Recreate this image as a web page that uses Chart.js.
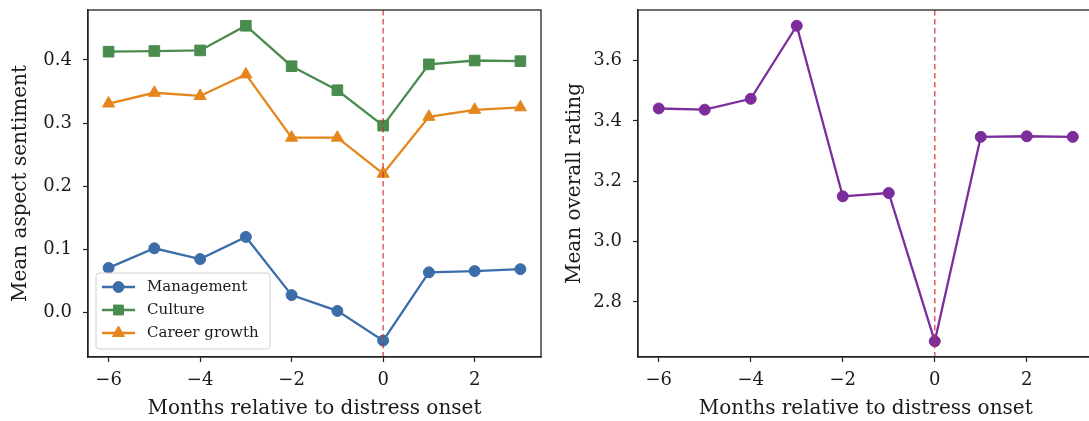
<!DOCTYPE html>
<html>
<head>
<meta charset="utf-8">
<script src="https://cdn.jsdelivr.net/npm/chart.js@4/dist/chart.umd.min.js"></script>
<style>
  html, body { margin: 0; padding: 0; background: #fff; overflow: hidden; width: 1089px; height: 421px; }
  canvas { position: absolute; top: 0; }
  #c1 { left: 0; }
  #c2 { left: 540px; }
</style>
</head>
<body>
<canvas id="c1" width="560" height="421"></canvas>
<canvas id="c2" width="560" height="421"></canvas>
<script>
// ---- data ----
const months = [-6, -5, -4, -3, -2, -1, 0, 1, 2, 3];
const management = [0.071, 0.102, 0.085, 0.120, 0.028, 0.003, -0.044, 0.064, 0.066, 0.069];
const culture = [0.413, 0.414, 0.415, 0.454, 0.390, 0.352, 0.296, 0.393, 0.399, 0.398];
const careerGrowth = [0.331, 0.348, 0.343, 0.377, 0.277, 0.277, 0.220, 0.310, 0.321, 0.325];
const overallRating = [3.441, 3.437, 3.473, 3.715, 3.150, 3.161, 2.670, 3.347, 3.349, 3.347];
const xTicks = [-6, -4, -2, 0, 2];
const yTicksLeft = [0.0, 0.1, 0.2, 0.3, 0.4];
const yTicksRight = [2.8, 3.0, 3.2, 3.4, 3.6];
const onsetMonth = 0;

const FONT = "'DejaVu Serif', serif";
const AXIS = '#222';
const TEXT = '#1a1a1a';

function pts(ys) { return months.map((m, i) => ({ x: m, y: ys[i] })); }

const framePlugin = {
  id: 'frame',
  afterDatasetsDraw(chart) {
    const { ctx, chartArea: a, scales } = chart;
    const x0 = scales.x.getPixelForValue(onsetMonth);
    ctx.save();
    ctx.strokeStyle = 'rgba(214,39,40,0.75)';
    ctx.lineWidth = 1.5;
    ctx.setLineDash([5.5, 3.5]);
    ctx.beginPath();
    ctx.moveTo(x0, a.top);
    ctx.lineTo(x0, a.bottom);
    ctx.stroke();
    ctx.restore();
  },
  afterDraw(chart) {
    const { ctx, chartArea: a } = chart;
    ctx.save();
    ctx.strokeStyle = AXIS;
    ctx.lineWidth = 1.3;
    ctx.strokeRect(a.left, a.top, a.right - a.left, a.bottom - a.top);
    ctx.restore();
  }
};

const legendPlugin = {
  id: 'innerLegend',
  afterDraw(chart) {
    const { ctx, chartArea: a } = chart;
    const x = a.left + 8, y = a.bottom - 84, w = 174, h = 76;
    ctx.save();
    ctx.beginPath();
    ctx.roundRect(x, y, w, h, 3);
    ctx.fillStyle = 'rgba(255,255,255,0.8)';
    ctx.fill();
    ctx.strokeStyle = '#d0d0d0';
    ctx.lineWidth = 1;
    ctx.stroke();
    chart.data.datasets.forEach((ds, i) => {
      const cy = y + 14 + i * 23;
      ctx.strokeStyle = ds.borderColor;
      ctx.lineWidth = 2.3;
      ctx.beginPath();
      ctx.moveTo(x + 6, cy);
      ctx.lineTo(x + 39, cy);
      ctx.stroke();
      ctx.fillStyle = ds.backgroundColor;
      ctx.lineWidth = 1;
      Chart.helpers.drawPoint(ctx, {
        pointStyle: ds.pointStyle, radius: ds.legendRadius, borderWidth: 1, rotation: 0
      }, x + 22.5, cy);
      ctx.fillStyle = TEXT;
      ctx.font = "15px " + FONT;
      ctx.textBaseline = 'middle';
      ctx.textAlign = 'left';
      ctx.fillText(ds.label, x + 51, cy);
    });
    ctx.restore();
  }
};

function axes(yTicks, yTitle, yMin, yMax, yWidth, titlePad) {
  return {
    x: {
      type: 'linear', min: -6.45, max: 3.45,
      afterBuildTicks(s) { s.ticks = xTicks.map(v => ({ value: v })); },
      afterFit(s) { s.height = 64; s.paddingLeft = 0; s.paddingRight = 0; },
      grid: { drawOnChartArea: false, drawTicks: true, tickLength: 5, color: AXIS, tickWidth: 1.2 },
      border: { display: true, color: AXIS, width: 1.3 },
      ticks: {
        padding: 8, color: TEXT, font: { family: FONT, size: 18 },
        callback: v => (v < 0 ? '\u2212' + Math.abs(v) : String(v))
      },
      title: { display: true, text: 'Months relative to distress onset', color: TEXT,
               font: { family: FONT, size: 20 }, padding: { top: 0, bottom: 0 } }
    },
    y: {
      type: 'linear', min: yMin, max: yMax,
      afterBuildTicks(s) { s.ticks = yTicks.map(v => ({ value: v })); },
      afterFit(s) { s.width = yWidth; s.paddingTop = 0; s.paddingBottom = 0; },
      grid: { drawOnChartArea: false, drawTicks: true, tickLength: 5, color: AXIS, tickWidth: 1.2 },
      border: { display: true, color: AXIS, width: 1.3 },
      ticks: {
        padding: 11, color: TEXT, font: { family: FONT, size: 18 },
        callback: v => Number(v).toFixed(1)
      },
      title: { display: true, text: yTitle, color: TEXT,
               font: { family: FONT, size: 20 }, padding: { top: titlePad, bottom: 0 } }
    }
  };
}

function baseOpts(scales, padRight) {
  return {
    responsive: false, animation: false,
    layout: { padding: { top: 10, right: padRight, bottom: 0, left: 0 } },
    plugins: { legend: { display: false }, tooltip: { enabled: false } },
    scales
  };
}

function ds(label, ys, color, style, radius, legendRadius) {
  return {
    label, data: pts(ys), borderColor: color, backgroundColor: color,
    borderWidth: 2.3, pointStyle: style, pointRadius: radius, legendRadius,
    pointBorderWidth: 1, tension: 0
  };
}

new Chart(document.getElementById('c1'), {
  type: 'line',
  data: { datasets: [
    ds('Management', management, '#3b6ea8', 'circle', 5.5, 5.5),
    ds('Culture', culture, '#4a8c4e', 'rect', 7.5, 7),
    ds('Career growth', careerGrowth, '#e5861c', 'triangle', 7, 7)
  ] },
  options: baseOpts(axes(yTicksLeft, 'Mean aspect sentiment', -0.0699, 0.4789, 88, 9), 19),
  plugins: [framePlugin, legendPlugin]
});

new Chart(document.getElementById('c2'), {
  type: 'line',
  data: { datasets: [
    ds('Overall rating', overallRating, '#7b2e9b', 'circle', 5.5, 5.5)
  ] },
  options: baseOpts(axes(yTicksRight, 'Mean overall rating', 2.6178, 3.7672, 98, 23), 2),
  plugins: [framePlugin]
});
</script>
</body>
</html>
